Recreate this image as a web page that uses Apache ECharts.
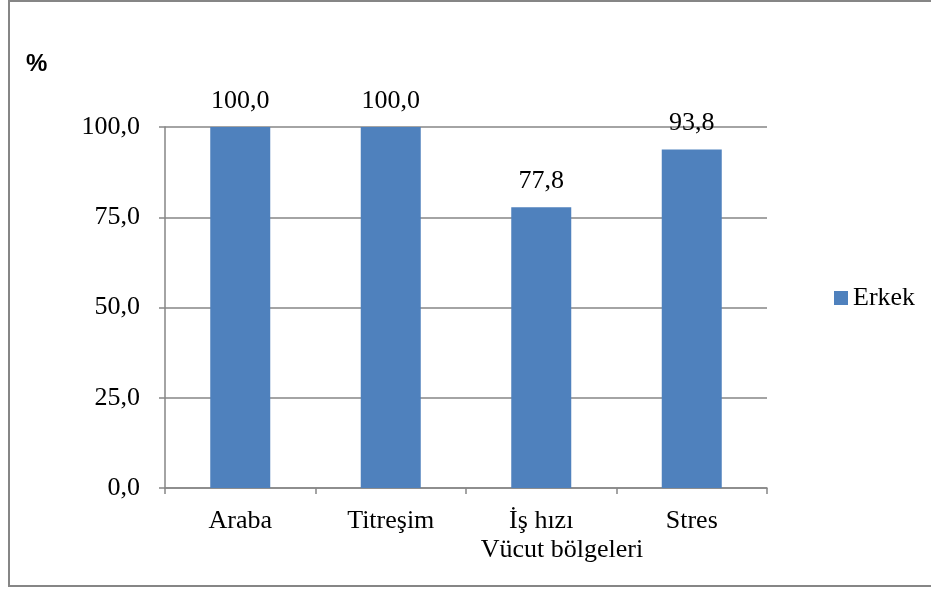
<!DOCTYPE html>
<html>
<head>
<meta charset="utf-8">
<script src="https://cdn.jsdelivr.net/npm/echarts@6/dist/echarts.min.js"></script>
<style>
  html, body { margin: 0; padding: 0; background: #fff; }
  #chart { width: 931px; height: 589px; }
</style>
</head>
<body>
<div id="chart"></div>
<script>
// Body regions and share of men reporting each complaint (%)
const categories = ['Araba', 'Titreşim', 'İş hızı', 'Stres'];
const erkekValues = [100.0, 100.0, 77.8, 93.8];
const yTicks = [0, 25, 50, 75, 100];

const serif = '"Liberation Serif", "Times New Roman", serif';
const sans = '"Liberation Sans", Arial, sans-serif';
const fmt = v => v.toFixed(1).replace('.', ',');

const chart = echarts.init(document.getElementById('chart'));
chart.setOption({
  animation: false,
  backgroundColor: '#ffffff',
  grid: { left: 165, right: 164, top: 127, bottom: 101 },
  legend: {
    data: ['Erkek'],
    orient: 'vertical',
    left: 829,
    top: 280,
    itemWidth: 14,
    itemHeight: 14,
    itemGap: 5,
    icon: 'rect',
    textStyle: { fontFamily: serif, fontSize: 26, color: '#000' }
  },
  xAxis: {
    type: 'category',
    data: categories,
    axisLine: { lineStyle: { color: '#868686', width: 1.5 } },
    axisTick: { show: true, length: 6, alignWithLabel: false, lineStyle: { color: '#868686', width: 1.5 } },
    axisLabel: { fontFamily: serif, fontSize: 26, color: '#000', margin: 20 }
  },
  yAxis: {
    type: 'value',
    min: yTicks[0],
    max: yTicks[yTicks.length - 1],
    interval: 25,
    axisLine: { show: true, lineStyle: { color: '#868686', width: 1.5 } },
    axisTick: { show: true, length: 6, lineStyle: { color: '#868686', width: 1.5 } },
    splitLine: { lineStyle: { color: '#868686', width: 1.5 } },
    axisLabel: { fontFamily: serif, fontSize: 26, color: '#000', margin: 25, formatter: v => fmt(v) }
  },
  series: [{
    name: 'Erkek',
    type: 'bar',
    data: erkekValues,
    barWidth: 60,
    itemStyle: { color: '#4F81BD' },
    label: {
      show: true,
      position: 'top',
      distance: 13,
      fontFamily: serif,
      fontSize: 26,
      color: '#000',
      formatter: p => fmt(p.value)
    }
  }],
  graphic: [
    {
      type: 'rect',
      shape: { x: 9, y: 1, width: 960, height: 585 },
      style: { fill: 'none', stroke: '#868686', lineWidth: 2 },
      silent: true
    },
    {
      type: 'text',
      x: 26,
      y: 64,
      style: {
        text: '%', fontFamily: sans, fontSize: 24, fontWeight: 'bold', fill: '#000',
        verticalAlign: 'middle', align: 'left'
      }
    },
    {
      type: 'text',
      x: 562,
      y: 550,
      style: {
        text: 'Vücut bölgeleri', fontFamily: serif, fontSize: 26, fill: '#000',
        verticalAlign: 'middle', align: 'center'
      }
    }
  ]
});
</script>
</body>
</html>
